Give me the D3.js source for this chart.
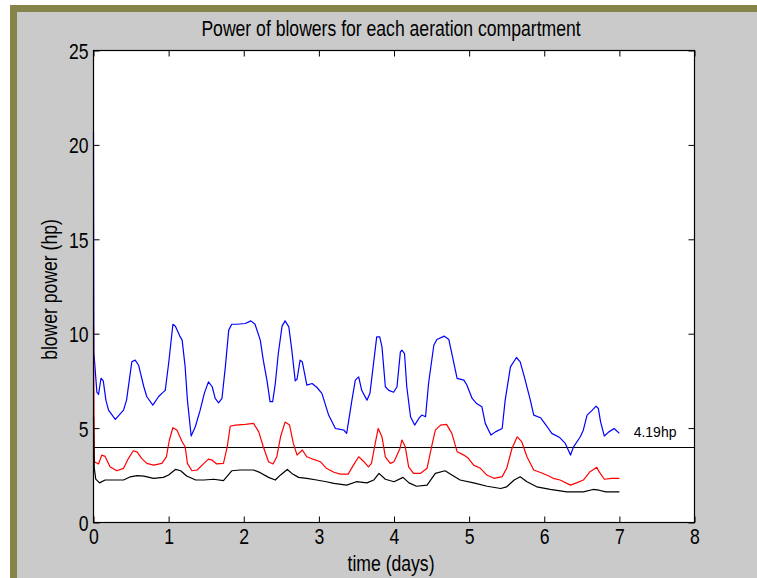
<!DOCTYPE html>
<html lang="en">
<head>
<meta charset="UTF-8">
<title>Power of blowers</title>
<script src="https://cdn.jsdelivr.net/npm/d3@7"></script>
<style>
  body { margin: 0; background: #fff; }
  text { font-family: "Liberation Sans", Arial, sans-serif; fill: #000; }
</style>
</head>
<body>
<script>
// chart text
var title = 'Power of blowers for each aeration compartment'
var xLabel = 'time (days)'
var yLabel = 'blower power (hp)'
var xTicks = [0, 1, 2, 3, 4, 5, 6, 7, 8]
var yTicks = [0, 5, 10, 15, 20, 25]
var refLevel = 4.0
var refText = '4.19hp'
var refTextAt = 7.15

// blue series (compartment 1)
var blueT = [0, 0.005, 0.045, 0.067, 0.1, 0.13, 0.165, 0.2, 0.29, 0.4, 0.44, 0.51, 0.555, 0.6, 0.67, 0.71, 0.79, 0.865, 0.91, 0.955,
  1.0, 1.057, 1.09, 1.155, 1.18, 1.22, 1.25, 1.3, 1.355, 1.42, 1.475, 1.53, 1.58, 1.62, 1.665, 1.71, 1.755, 1.8, 1.84, 1.91,
  2.02, 2.095, 2.15, 2.22, 2.26, 2.31, 2.35, 2.385, 2.42, 2.46, 2.51, 2.55, 2.6, 2.64, 2.685, 2.71, 2.75, 2.78, 2.84, 2.91, 2.975,
  3.04, 3.13, 3.22, 3.285, 3.33, 3.37, 3.44, 3.485, 3.53, 3.57, 3.64, 3.68, 3.73, 3.77, 3.81, 3.84, 3.885, 3.93, 3.995,
  4.04, 4.085, 4.105, 4.14, 4.17, 4.22, 4.275, 4.33, 4.37, 4.42, 4.46, 4.53, 4.57, 4.67, 4.73, 4.77, 4.84, 4.93, 4.97,
  5.04, 5.1, 5.17, 5.215, 5.29, 5.35, 5.44, 5.48, 5.55, 5.63, 5.68, 5.735, 5.815, 5.86, 5.95,
  6.04, 6.1, 6.2, 6.28, 6.35, 6.39, 6.48, 6.52, 6.57, 6.64, 6.69, 6.72, 6.75, 6.8, 6.86, 6.93, 7.0]
var blueV = [20.7, 9.0, 6.9, 6.78, 7.64, 7.5, 6.48, 5.95, 5.46, 5.95, 6.48, 8.51, 8.6, 8.33, 7.19, 6.66, 6.22, 6.66, 6.84, 7.0,
  8.42, 10.5, 10.4, 9.83, 9.66, 8.24, 6.48, 4.58, 5.07, 5.95, 6.84, 7.45, 7.19, 6.57, 6.34, 6.57, 8.24, 10.19, 10.5, 10.5,
  10.54, 10.68, 10.5, 9.66, 8.6, 7.5, 6.4, 6.4, 7.36, 8.95, 10.4, 10.68, 10.36, 9.13, 7.5, 7.6, 8.6, 8.5, 7.28, 7.36, 7.15,
  6.84, 5.69, 4.98, 4.93, 4.9, 4.72, 6.48, 7.54, 7.71, 7.0, 6.48, 6.84, 8.51, 9.83, 9.83, 9.3, 7.19, 7.0, 6.9,
  7.19, 9.04, 9.13, 8.95, 7.19, 5.6, 5.16, 5.51, 5.69, 5.6, 7.36, 9.39, 9.69, 9.87, 9.69, 8.95, 7.63, 7.54, 7.28,
  6.57, 6.3, 6.13, 5.25, 4.63, 4.8, 4.98, 6.48, 8.24, 8.74, 8.51, 7.71, 6.48, 5.69, 5.55,
  5.07, 4.72, 4.52, 4.19, 3.57, 4.01, 4.54, 4.89, 5.69, 5.95, 6.16, 6.04, 5.33, 4.58, 4.8, 4.98, 4.72]

// red series (compartment 2)
var redT = [0, 0.01, 0.067, 0.11, 0.155, 0.22, 0.31, 0.4, 0.466, 0.53, 0.58, 0.64, 0.71, 0.8, 0.91, 0.97,
  1.01, 1.057, 1.11, 1.18, 1.22, 1.25, 1.31, 1.38, 1.47, 1.53, 1.58, 1.64, 1.73, 1.78, 1.82, 1.89,
  2.02, 2.13, 2.2, 2.26, 2.33, 2.39, 2.44, 2.49, 2.55, 2.61, 2.66, 2.71, 2.78, 2.84, 2.93,
  3.02, 3.1, 3.2, 3.285, 3.39, 3.46, 3.53, 3.6, 3.66, 3.7, 3.75, 3.79, 3.84, 3.885, 3.95,
  4.0, 4.08, 4.105, 4.15, 4.195, 4.26, 4.35, 4.44, 4.5, 4.55, 4.62, 4.7, 4.77, 4.84, 4.93, 4.99,
  5.06, 5.15, 5.24, 5.33, 5.44, 5.5, 5.57, 5.64, 5.7, 5.77, 5.86, 5.95,
  6.04, 6.12, 6.21, 6.35, 6.43, 6.52, 6.61, 6.7, 6.73, 6.8, 6.9, 7.0]
var redV = [10.4, 3.22, 3.1, 3.57, 3.5, 2.95, 2.74, 2.87, 3.4, 3.8, 3.74, 3.4, 3.13, 3.04, 3.13, 3.48,
  4.37, 5.02, 4.9, 4.28, 4.01, 3.13, 2.74, 2.78, 3.13, 3.36, 3.3, 3.1, 3.13, 4.01, 5.1, 5.16,
  5.2, 5.25, 4.8, 4.01, 3.22, 3.1, 3.48, 4.54, 5.32, 5.16, 4.19, 3.57, 3.84, 3.48, 3.34,
  3.22, 2.87, 2.66, 2.56, 2.56, 3.04, 3.48, 3.22, 2.95, 3.13, 4.19, 4.98, 4.54, 3.48, 3.13,
  3.22, 3.92, 4.37, 4.01, 2.95, 2.6, 2.6, 2.87, 4.01, 4.89, 5.16, 5.2, 4.72, 3.75, 3.57, 3.4,
  3.04, 2.87, 2.5, 2.34, 2.43, 2.87, 3.92, 4.54, 4.28, 3.48, 2.78, 2.65,
  2.5, 2.34, 2.25, 1.98, 2.1, 2.25, 2.69, 2.92, 2.69, 2.29, 2.34, 2.34]

// black series (compartment 3)
var blackT = [0, 0.01, 0.03, 0.08, 0.155, 0.27, 0.4, 0.49, 0.58, 0.67, 0.8, 0.93,
  1.0, 1.09, 1.16, 1.24, 1.36, 1.47, 1.6, 1.73, 1.84, 1.95,
  2.13, 2.22, 2.33, 2.42, 2.49, 2.58, 2.64, 2.73, 2.84, 2.97,
  3.1, 3.2, 3.37, 3.5, 3.64, 3.73, 3.8, 3.885,
  4.0, 4.12, 4.2, 4.3, 4.44, 4.55, 4.68, 4.77, 4.88,
  5.06, 5.24, 5.42, 5.5, 5.6, 5.68, 5.77, 5.9,
  6.08, 6.3, 6.52, 6.65, 6.73, 6.82, 7.0]
var blackV = [5.6, 2.9, 2.3, 2.1, 2.25, 2.25, 2.25, 2.42, 2.48, 2.46, 2.34, 2.39,
  2.52, 2.81, 2.74, 2.46, 2.25, 2.25, 2.29, 2.22, 2.74, 2.78,
  2.78, 2.64, 2.39, 2.25, 2.52, 2.81, 2.6, 2.39, 2.34, 2.25,
  2.16, 2.07, 1.98, 2.16, 2.1, 2.25, 2.6, 2.29,
  2.16, 2.39, 2.1, 1.92, 1.98, 2.6, 2.74, 2.52, 2.25,
  2.1, 1.92, 1.8, 1.89, 2.25, 2.42, 2.16, 1.89,
  1.75, 1.62, 1.62, 1.75, 1.71, 1.62, 1.62]

var width = 757
var height = 578
var plot = {left: 93.5, right: 694.5, top: 50.5, bottom: 522.5}
var squeeze = 0.8   // the matlab screen font is tall and narrow
var fs = '22px'

var svg = d3.select('body').append('svg').attr('width', width).attr('height', height)

// figure frame: olive edge and grey figure background
svg.append('rect').attr('x', 10).attr('y', 5).attr('width', width - 10).attr('height', height - 5).attr('fill', '#85844a')
svg.append('rect').attr('x', 17).attr('y', 12).attr('width', width - 17).attr('height', height - 12).attr('fill', '#cacaca')

var xScale = d3.scaleLinear().domain([0, 8]).range([plot.left, plot.right])
var yScale = d3.scaleLinear().domain([0, 25]).range([plot.bottom, plot.top])

// white axes area
svg.append('rect').attr('x', plot.left).attr('y', plot.top)
  .attr('width', plot.right - plot.left).attr('height', plot.bottom - plot.top).attr('fill', '#fff')

// inward ticks on all four sides (matlab box)
var tk = 6
var xAxis = d3.axisBottom(xScale).tickValues(xTicks).tickSizeInner(-tk).tickSizeOuter(0).tickFormat(d3.format('d'))
var yAxis = d3.axisLeft(yScale).tickValues(yTicks).tickSizeInner(-tk).tickSizeOuter(0).tickFormat(d3.format('d'))
var xTop = d3.axisTop(xScale).tickValues(xTicks).tickSizeInner(-tk).tickSizeOuter(0).tickFormat('')
var yRight = d3.axisRight(yScale).tickValues(yTicks).tickSizeInner(-tk).tickSizeOuter(0).tickFormat('')

function styleAxis(g) {
  g.select('.domain').remove()
  g.selectAll('line').attr('stroke', '#000')
  g.attr('font-family', null).attr('font-size', null)
}
var gx = svg.append('g').attr('transform', 'translate(0,' + plot.bottom + ')').call(xAxis).call(styleAxis)
gx.selectAll('text').attr('y', 0).attr('dy', null)
  .attr('transform', 'translate(0,21) scale(' + squeeze + ',1)').style('font-size', fs)
var gy = svg.append('g').attr('transform', 'translate(' + plot.left + ',0)').call(yAxis).call(styleAxis)
gy.selectAll('text').attr('x', 0).attr('dy', null)
  .attr('transform', 'translate(-5,8) scale(' + squeeze + ',1)').style('font-size', fs)
svg.append('g').attr('transform', 'translate(0,' + plot.top + ')').call(xTop).call(styleAxis)
svg.append('g').attr('transform', 'translate(' + plot.right + ',0)').call(yRight).call(styleAxis)

// reference level line across the whole axes
svg.append('line').attr('x1', xScale(0)).attr('x2', xScale(8))
  .attr('y1', Math.round(yScale(refLevel)) + 0.5).attr('y2', Math.round(yScale(refLevel)) + 0.5)
  .attr('stroke', '#000').attr('stroke-width', 1.2)

// the three series
var series = [
  {t: blueT, v: blueV, color: '#0000ff'},
  {t: redT, v: redV, color: '#ff0000'},
  {t: blackT, v: blackV, color: '#000000'}
]
var line = d3.line().x(function (d) { return xScale(d[0]) }).y(function (d) { return yScale(d[1]) })
series.forEach(function (s) {
  var pts = s.t.map(function (t, i) { return [t, s.v[i]] })
  svg.append('path').datum(pts).attr('d', line).attr('fill', 'none')
    .attr('stroke', s.color).attr('stroke-width', 1.2).attr('stroke-linejoin', 'round')
})

// box
svg.append('rect').attr('x', plot.left).attr('y', plot.top)
  .attr('width', plot.right - plot.left).attr('height', plot.bottom - plot.top)
  .attr('fill', 'none').attr('stroke', '#000').attr('stroke-width', 1.2)

// labels, squeezed horizontally
function label(x, y, rot, txt) {
  svg.append('text').attr('text-anchor', 'middle').style('font-size', fs)
    .attr('transform', 'translate(' + x + ',' + y + ') rotate(' + rot + ') scale(' + squeeze + ',1)')
    .text(txt)
}
label(xScale(4) - 3, 36, 0, title)
label(xScale(4) - 3, 571, 0, xLabel)
label(57, (plot.top + plot.bottom) / 2 + 3, -90, yLabel)

svg.append('text').attr('x', xScale(refTextAt) + 3).attr('y', yScale(refLevel) - 10)
  .style('font-size', '14px').text(refText)
</script>
</body>
</html>
